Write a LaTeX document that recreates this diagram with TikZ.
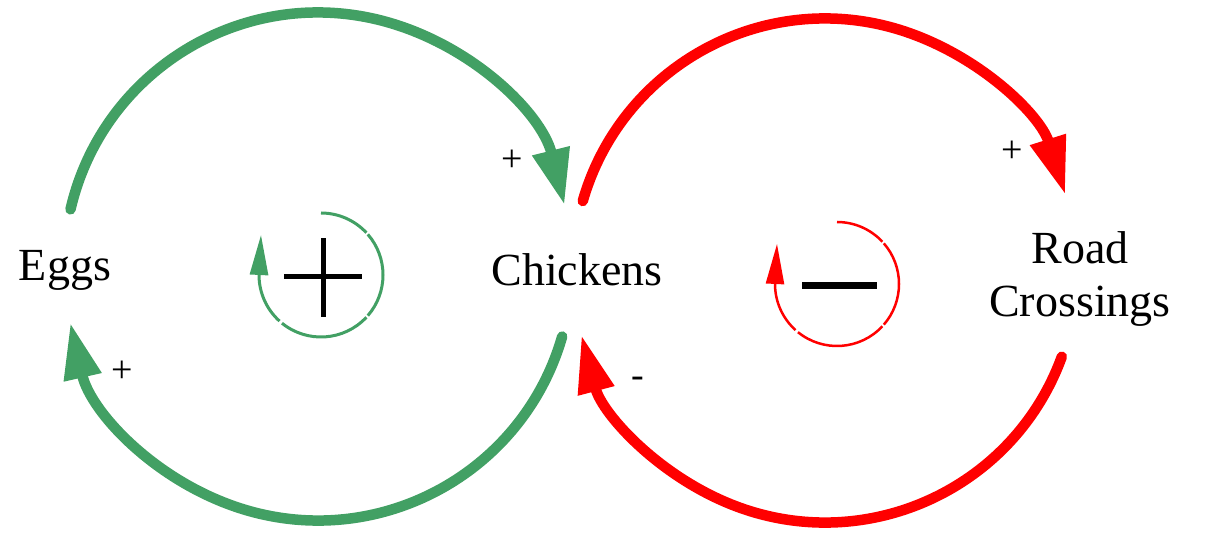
\documentclass[tikz,border=0pt]{standalone}
\usepackage{fontspec}
\setmainfont{Liberation Serif}
\usetikzlibrary{arrows.meta}
\definecolor{cgreen}{RGB}{66,160,100}
\begin{document}
\begin{tikzpicture}[x=1pt,y=1pt,
  big/.style={font=\fontsize{46}{53}\selectfont, align=center, inner sep=0pt},
  pol/.style={font=\fontsize{38}{40}\selectfont, inner sep=0pt},
  glink/.style={cgreen, line width=10.5pt, line cap=round, -{Triangle[length=56pt,width=36pt]}},
  rlink/.style={red, line width=10.5pt, line cap=round, -{Triangle[length=58pt,width=35pt]}},
  gloop/.style={cgreen, line width=3pt},
  rloop/.style={red, line width=2.5pt},
  looptip/.style={-{Triangle[length=40pt,width=18pt]}},
]
\useasboundingbox (0,0) rectangle (1207,536);
% variables
\node[big] (eggs) at (65,266) {Eggs};
\node[big] (chick) at (577,266) {Chickens};
\node[big] (road) at (1080,257) {Road\\Crossings};
% loop centres
\coordinate (gc) at (318,269.5);
\coordinate (rc) at (825,265.5);
\path (gc) ++(167:254) coordinate (g1s);
\path (gc) ++(-16:254) coordinate (g2s);
\path (rc) ++(164:252) coordinate (r1s);
\path (rc) ++(-20:252) coordinate (r2s);
% links
\draw[glink] (g1s) arc[start angle=167, end angle=14, radius=254];
\draw[glink] (g2s) arc[start angle=-16, end angle=-167.2, radius=254];
\draw[rlink] (r1s) arc[start angle=164, end angle=17.5, radius=252];
\draw[rlink] (r2s) arc[start angle=-20, end angle=-165.2, radius=252];
% polarities
\node[pol] (p1) at (512,375) {+};
\node[pol] (p2) at (1012,384) {+};
\node[pol] (p3) at (122,164) {+};
\node[pol] (p4) at (638,154) {-};
% reinforcing loop symbol
\coordinate (gl) at (321,261);
\draw[gloop] (gl) ++(90:62) arc[start angle=90, end angle=43, radius=62];
\draw[gloop] (gl) ++(41:62) arc[start angle=41, end angle=-41, radius=62];
\draw[gloop] (gl) ++(-43:62) arc[start angle=-43, end angle=-129, radius=62];
\draw[gloop,looptip] (gl) ++(-132:62) arc[start angle=-132, end angle=-180, radius=62] -- ++(2,40);
\draw[line width=5pt] (284,259) -- (362,259);
\draw[line width=5pt] (323,219) -- (323,298);
% balancing loop symbol
\coordinate (rl) at (837,252);
\draw[rloop] (rl) ++(90:62) arc[start angle=90, end angle=43, radius=62];
\draw[rloop] (rl) ++(41:62) arc[start angle=41, end angle=-41, radius=62];
\draw[rloop] (rl) ++(-43:62) arc[start angle=-43, end angle=-129, radius=62];
\draw[rloop,looptip] (rl) ++(-132:62) arc[start angle=-132, end angle=-180, radius=62] -- ++(2,40);
\draw[line width=7pt] (802,250) -- (877,250);
\end{tikzpicture}
\end{document}
